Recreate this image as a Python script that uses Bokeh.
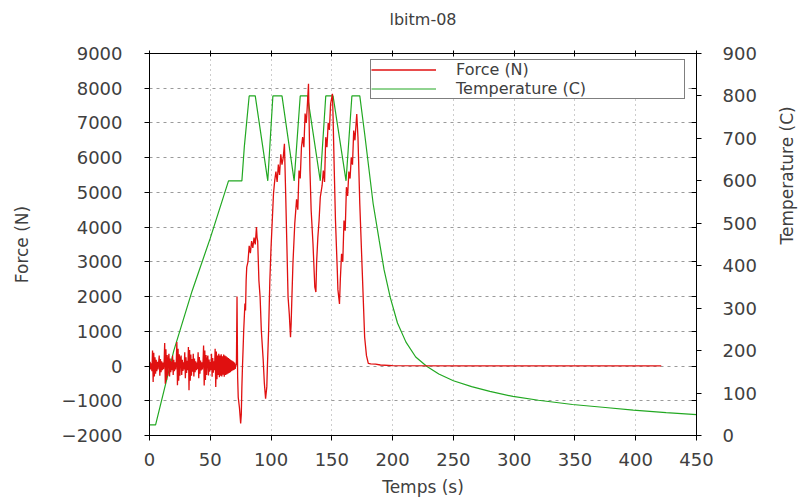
import math
from bokeh.plotting import figure
from bokeh.models import Range1d, LinearAxis, Legend, LegendItem, FixedTicker
from bokeh.embed import file_html
from bokeh.resources import INLINE

# ---------------- data ----------------
noise_time = [0, 0.5, 1, 1.5, 2, 2.5, 3, 3.5, 4, 4.5, 5, 5.5, 6, 6.5, 7, 7.5, 8, 8.5, 9, 9.5,
              10, 10.5, 11, 11.5, 12, 12.5, 13, 13.5, 14, 14.5, 15, 15.5, 16, 16.5, 17, 17.5, 18, 18.5, 19, 19.5,
              20, 20.5, 21, 21.5, 22, 22.5, 23, 23.5, 24, 24.5, 25, 25.5, 26, 26.5, 27, 27.5, 28, 28.5, 29, 29.5,
              30, 30.5, 31, 31.5, 32, 32.5, 33, 33.5, 34, 34.5, 35, 35.5, 36, 36.5, 37, 37.5, 38, 38.5, 39, 39.5,
              40, 40.5, 41, 41.5, 42, 42.5, 43, 43.5, 44, 44.5, 45, 45.5, 46, 46.5, 47, 47.5, 48, 48.5, 49, 49.5,
              50, 50.5, 51, 51.5, 52, 52.5, 53, 53.5, 54, 54.5, 55, 55.5, 56, 56.5, 57, 57.5, 58, 58.5, 59, 59.5,
              60, 60.5, 61, 61.5, 62, 62.5, 63, 63.5, 64, 64.5, 65, 65.5, 66, 66.5, 67, 67.5, 68, 68.5, 69, 69.5,
              70, 70.5, 71, 71.5]
noise_force = [0, 120, -100, 80, -150, 450, -460, 380, -300, 250, -220, 180, -150, 120, -100, 90, 300, -280, 200, -180,
               140, -120, 100, -90, 80, 660, -510, 480, -400, 320, -280, 200, 350, -300, 220, -180, 140, -120, 300, -260,
               180, -150, 110, -100, 90, 690, -550, 500, -420, 340, -280, 220, 300, -260, 180, -140, 110, -100, 400, -350,
               250, -200, 150, -120, 550, -700, 460, -420, 330, -280, 200, -160, 350, -300, 220, -180, 140, -120, 100, -90,
               400, -350, 260, -220, 160, -130, 110, -100, 90, 590, -560, 450, -400, 320, -260, 200, 300, -270, 190, -160,
               120, -110, 350, -310, 230, -190, 140, -120, 500, -600, 420, -380, 300, -260, 350, -320, 300, -280, 340, -300,
               280, -250, 330, -310, 300, -260, 280, -240, 250, -220, 230, -200, 200, -180, 170, -150, 150, -130, 130, -110,
               100, -80, 50, 20]

load_time = [72, 72.5, 73, 74, 75, 75.5, 76, 76.5, 77, 77.5, 78.5, 79, 79.5, 80, 81, 82, 83, 84, 85, 86,
             87, 88, 88.5, 89, 90, 91, 92, 93.5, 94.5, 95.5, 96.5, 97, 98, 99, 100, 101, 102, 103, 104, 105,
             106, 107, 108, 109, 110, 111, 112, 113, 114, 115, 116, 116.5, 117, 118, 119.5, 121, 122, 123, 124, 125,
             126, 127, 128, 129, 130, 130.8, 131.3, 132, 133, 134.5, 136, 136.9, 137.5, 138.5, 139.5, 140.5, 142, 143, 144, 145,
             146, 147, 148, 149, 150.5, 151, 152, 153, 154.5, 155, 156.3, 157, 158, 159, 160, 161, 162, 163, 164, 165,
             166, 167, 168, 169, 170.5, 171.5, 173, 175, 177, 178.5, 180, 182, 186, 190, 200, 250, 300, 350, 400, 421]
load_force = [2000, -300, -900, -1200, -1650, -1400, -600, 0, 500, 1025, 1800, 1600, 2465, 2850, 3000, 3460, 3250, 3600, 3400, 3700,
              3500, 4000, 3700, 3600, 2465, 1985, 1025, 200, -500, -940, -600, 0, 1025, 2465, 3420, 4190, 4960, 5340, 5600, 5300,
              5800, 5500, 6100, 5800, 6000, 6400, 5000, 3500, 1985, 1500, 830, 1200, 1800, 2950, 4100, 4800, 4500, 5630, 5400, 6300,
              6590, 6300, 7270, 7000, 7600, 8130, 7070, 5630, 4480, 3520, 2270, 2130, 3000, 3710, 4190, 4860, 5200, 5630, 5300, 6590,
              6300, 7000, 6800, 7550, 7840, 7200, 5630, 4190, 2750, 2200, 1790, 2500, 3230, 3000, 4190, 3900, 5150, 4900, 5600, 5400,
              6010, 5800, 6780, 6500, 7260, 6590, 4670, 2750, 830, 300, 75, 60, 55, 30, 10, 5, 5, 5, 5, 5]

temp_time = [0, 5, 20, 35, 50, 65, 76, 78, 80, 82, 87, 97.3, 101.5, 109, 119, 124, 130, 140.5, 145, 151,
             161.7, 166.5, 173, 177, 184, 189, 193, 198, 204, 211, 219, 228, 238, 250, 265, 280, 299, 320, 348, 375,
             398, 425, 450]
temp_c = [25, 25, 200, 340, 465, 600, 600, 680, 740, 800, 800, 600, 800, 800, 600, 800, 800, 600, 800, 800,
          600, 800, 800, 711, 546, 459, 390, 326, 265, 220, 185, 163, 145, 129, 115, 104, 92, 83, 73, 66,
          60, 54, 49]

x_ticks = [0, 50, 100, 150, 200, 250, 300, 350, 400, 450]
force_ticks = [-2000, -1000, 0, 1000, 2000, 3000, 4000, 5000, 6000, 7000, 8000, 9000]
temp_ticks = [0, 100, 200, 300, 400, 500, 600, 700, 800, 900]

force_time = noise_time + load_time
force_n = noise_force + load_force

FONT = "DejaVu Sans"
TXT = "#404040"

p = figure(width=809, height=499, output_backend="svg", toolbar_location=None,
           x_range=Range1d(0, 450), y_range=Range1d(-2000, 9000),
           min_border_left=149, min_border_right=112, min_border_top=53, min_border_bottom=64)
p.extra_y_ranges = {"temp": Range1d(0, 900)}

p.outline_line_color = "black"
p.outline_line_width = 1

# grid
p.xgrid.ticker = FixedTicker(ticks=x_ticks)
p.ygrid.ticker = FixedTicker(ticks=force_ticks)
p.xgrid.grid_line_color = "#9a9a9a"
p.xgrid.grid_line_dash = "1 4"
p.ygrid.grid_line_color = "#9a9a9a"
p.ygrid.grid_line_dash = "3 4"

def style_axis(ax):
    ax.axis_line_color = "black"
    ax.major_tick_line_color = "black"
    ax.major_tick_out = 5
    ax.major_tick_in = 0
    ax.minor_tick_line_color = None
    ax.major_label_text_font = FONT
    ax.major_label_text_font_size = "18px"
    ax.major_label_text_color = TXT
    ax.axis_label_text_font = FONT
    ax.axis_label_text_font_size = "17px"
    ax.axis_label_text_font_style = "normal"
    ax.axis_label_text_color = TXT

xa = p.xaxis[0]
xa.ticker = FixedTicker(ticks=x_ticks)
xa.axis_label = "Temps (s)"
style_axis(xa)
xa.major_label_standoff = 12
xa.axis_label_standoff = 8

ya = p.yaxis[0]
ya.ticker = FixedTicker(ticks=force_ticks)
ya.axis_label = "Force (N)"
style_axis(ya)
ya.major_label_standoff = 22
ya.axis_label_standoff = 27

# mirrored force ticks on the right border (inward, no labels)
mirror_r = LinearAxis(ticker=FixedTicker(ticks=[], minor_ticks=force_ticks))
mirror_r.axis_line_color = "black"
mirror_r.major_tick_out = 0
mirror_r.major_tick_in = 0
mirror_r.major_label_standoff = 0
mirror_r.minor_tick_line_color = "black"
mirror_r.minor_tick_in = 5
mirror_r.minor_tick_out = 0
p.add_layout(mirror_r, "right")

ra = LinearAxis(y_range_name="temp", ticker=FixedTicker(ticks=temp_ticks), axis_label="Temperature (C)")
style_axis(ra)
ra.major_label_standoff = 21
ra.axis_label_standoff = 27
if "axis_label_orientation" in ra.properties():
    ra.axis_label_orientation = math.pi / 2
p.add_layout(ra, "right")

# top border: mirrored x ticks and the chart title
top = LinearAxis(ticker=FixedTicker(ticks=[], minor_ticks=x_ticks), axis_label="lbitm-08")
top.axis_line_color = "black"
top.major_tick_out = 3
top.major_tick_in = 0
top.major_label_standoff = 0
top.minor_tick_line_color = "black"
top.minor_tick_in = 3
top.minor_tick_out = 3
top.axis_label_text_font = FONT
top.axis_label_text_font_size = "16px"
top.axis_label_text_font_style = "normal"
top.axis_label_text_color = TXT
top.axis_label_standoff = 22
p.add_layout(top, "above")

temp_r = p.line(temp_time, temp_c, y_range_name="temp", line_color="#22a822", line_width=1.2)
force_r = p.line(force_time, force_n, line_color="#e01010", line_width=1.3)

legend = Legend(items=[LegendItem(label="Force (N)", renderers=[force_r]),
                       LegendItem(label="Temperature (C)", renderers=[temp_r])],
                location=(221, 336))
legend.border_line_color = "black"
legend.border_line_width = 1
legend.background_fill_alpha = 1
legend.label_text_font = FONT
legend.label_text_font_size = "16px"
legend.label_text_color = TXT
legend.glyph_width = 65
legend.label_width = 228
legend.label_height = 19
legend.glyph_height = 19
legend.spacing = 0
legend.padding = 0
legend.margin = 0
legend.label_standoff = 20
p.add_layout(legend)

open("out.html", "w").write(file_html(p, INLINE))
